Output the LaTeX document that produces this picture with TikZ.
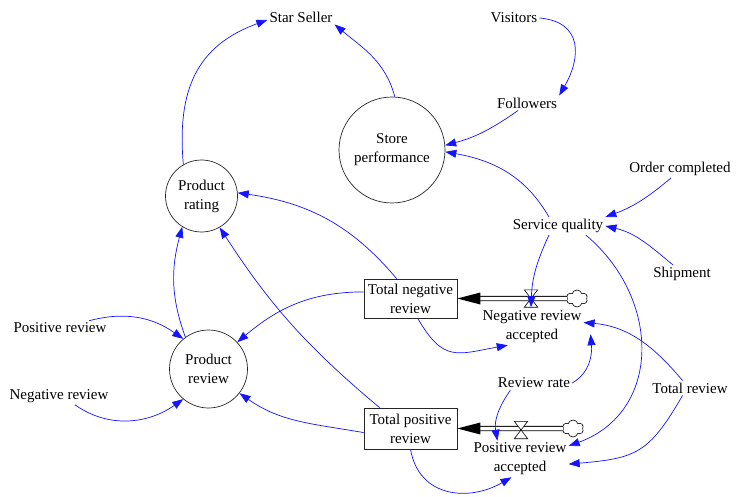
\documentclass[tikz,border=0pt]{standalone}
\usepackage{fontspec}
\setmainfont{Liberation Serif}
\usetikzlibrary{arrows.meta,shapes.symbols}
\definecolor{linkblue}{RGB}{20,20,255}
\begin{document}
\begin{tikzpicture}[x=1pt,y=1pt,
  lbl/.style={font=\fontsize{15}{19}\selectfont, inner sep=2pt, align=center},
  auxvar/.style={lbl, circle, draw=black!85, line width=0.7pt, inner sep=0pt},
  stock/.style={lbl, rectangle, draw=black!85, line width=0.7pt, minimum width=93pt, inner sep=0pt},
  link/.style={draw=linkblue, line width=0.7pt, -{Triangle[length=11pt,width=8pt,fill=linkblue]}},
  pipe/.style={draw=black, line width=0.8pt, double=white, double distance=3.5pt},
  valvebox/.style={rectangle, minimum width=13pt, minimum height=17pt, inner sep=0pt},
  valveline/.style={draw=black, line width=0.6pt, fill=white},
  source/.style={cloud, cloud puffs=6, draw=black, line width=0.6pt, fill=white,
    minimum width=21pt, minimum height=17pt, inner sep=0pt, aspect=1.2}
]
\useasboundingbox (0,0) rectangle (738,496);

% variables
\node[lbl] (star) at (301,479) {Star Seller};
\node[auxvar, minimum size=106pt] (store) at (392,346) {Store\\performance};
\node[auxvar, minimum size=72pt] (rating) at (201.5,300) {Product\\rating};
\node[auxvar, minimum size=78pt] (review) at (208.5,127) {Product\\review};
\node[lbl] (visitors) at (514,478) {Visitors};
\node[lbl] (followers) at (527,393) {Followers};
\node[lbl] (ordercomp) at (680,327) {Order completed};
\node[lbl] (service) at (558,270) {Service quality};
\node[lbl] (shipment) at (682,222) {Shipment};
\node[lbl] (posrev) at (60,168) {Positive review};
\node[lbl] (negrev) at (59,100) {Negative review};
\node[lbl] (reviewrate) at (534,113) {Review rate};
\node[lbl] (totalreview) at (690,108) {Total review};

% stocks
\node[stock, minimum height=39pt] (totneg) at (410.5,197.5) {Total negative\\review};
\node[stock, minimum height=41pt] (totpos) at (410.5,67.5) {Total positive\\review};

% flows
\node[lbl] (negacc) at (532,169) {Negative review\\accepted};
\node[lbl] (posacc) at (520,37) {Positive review\\accepted};
\node[valvebox] (valveN) at (531,197.5) {};
\node[valvebox] (valveP) at (521,66) {};
\node[source] (cloudN) at (577,197.5) {};
\node[source] (cloudP) at (573,67.5) {};

\draw[pipe] (cloudN.west) -- ([xshift=20pt]totneg.east);
\fill (totneg.east) -- ([shift={(23,6)}]totneg.east) -- ([shift={(23,-6)}]totneg.east) -- cycle;
\draw[pipe] (cloudP.west) -- ([xshift=20pt]totpos.east);
\fill (totpos.east) -- ([shift={(23,6)}]totpos.east) -- ([shift={(23,-6)}]totpos.east) -- cycle;
\draw[valveline] (valveN.north west) -- (valveN.north east) -- (valveN.south west) -- (valveN.south east) -- cycle;
\draw[valveline] (valveP.north west) -- (valveP.north east) -- (valveP.south west) -- (valveP.south east) -- cycle;

% causal links
\draw[link] (rating.120) to[out=95,in=200,looseness=1.15] (star.185);
\draw[link] (store.87) to[out=105,in=-40] (star.south east);
\draw[link] (visitors.east) to[out=-5,in=60,looseness=1.4] (followers.north east);
\draw[link] (followers.220) to[out=215,in=15] (store.5);
\draw[link] (service.135) to[out=120,in=-10] (store.-2);
\draw[link] (ordercomp.-135) to[out=220,in=20] (service.north east);
\draw[link] (shipment.135) to[out=140,in=-13] (service.east);
\draw[link] (service.-135) to[out=245,in=88] (valveN.south);
\draw[link] (service.-18) to[out=-40,in=20,looseness=1.2] (posacc.15);
\draw[link] (totalreview.135) to[out=130,in=-5] (negacc.5);
\draw[link] (totalreview.-135) to[out=240,in=5,looseness=1.3] (posacc.-6);
\draw[link] (reviewrate.east) to[out=30,in=-85] ([xshift=7pt]negacc.-8);
\draw[link] (reviewrate.-163) to[out=235,in=100] (posacc.141);
\draw[link] (totneg.-70) to[out=-60,in=190,looseness=1.4] (negacc.-143);
\draw[link] (totpos.south) to[out=-80,in=210,looseness=1.2] (posacc.-115);
\draw[link] (totneg.172) to[out=180,in=40] (review.43);
\draw[link] (totpos.185) to[out=170,in=-35] (review.-38);
\draw[link] (totneg.125) to[out=130,in=-8] (rating.5);
\draw[link] (totpos.146) to[out=140,in=-57] (rating.-60);
\draw[link] (review.126) to[out=110,in=-105] (rating.-122);
\draw[link] (posrev.14) to[out=15,in=145] (review.130);
\draw[link] (negrev.-29) to[out=-35,in=215] (review.-130);
\end{tikzpicture}
\end{document}
